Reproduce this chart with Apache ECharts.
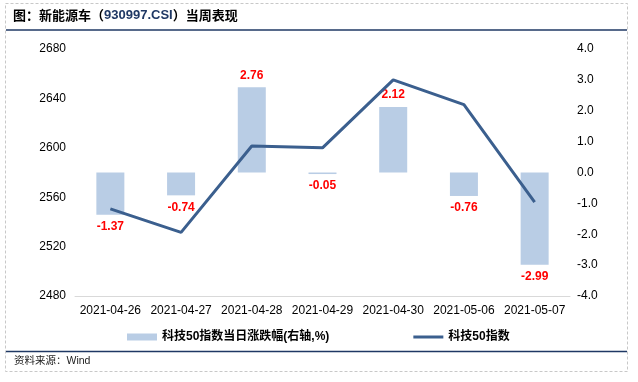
<!DOCTYPE html>
<html>
<head>
<meta charset="utf-8">
<script src="https://cdn.jsdelivr.net/npm/echarts@6/dist/echarts.min.js"></script>
<style>
html,body{margin:0;padding:0;background:#fff;}
#chart{width:638px;height:382px;}
</style>
</head>
<body>
<div id="chart"></div>
<script>
const categories = ['2021-04-26','2021-04-27','2021-04-28','2021-04-29','2021-04-30','2021-05-06','2021-05-07'];
const changePct = [-1.37, -0.74, 2.76, -0.05, 2.12, -0.76, -2.99];
const indexValues = [2550.5, 2531.5, 2601.5, 2600.0, 2655.0, 2635.0, 2556.0];
const leftTicks = {min: 2480, max: 2680, interval: 40};
const rightTicks = {min: -4, max: 4, interval: 1};
const barName = '科技50指数当日涨跌幅(右轴,%)';
const lineName = '科技50指数';

const FONT = '"Liberation Sans", Arial, "Noto Sans CJK SC", sans-serif';
const chart = echarts.init(document.getElementById('chart'), null, {renderer: 'canvas'});

const option = {
  backgroundColor: '#ffffff',
  animation: false,
  textStyle: {fontFamily: FONT},
  graphic: [
    {type: 'rect', shape: {x: 5.5, y: 3.5, width: 622, height: 368},
     style: {fill: 'none', stroke: '#C8C8C8', lineWidth: 1, lineDash: [3, 2]}, silent: true, z: 0},
    {type: 'line', shape: {x1: 6, y1: 30, x2: 627, y2: 30},
     style: {stroke: '#1F3864', lineWidth: 1.5}, silent: true},
    {type: 'line', shape: {x1: 6, y1: 351.5, x2: 627, y2: 351.5},
     style: {stroke: '#1F3864', lineWidth: 1.5}, silent: true},
    {type: 'text', left: 13, top: 9,
     style: {
       text: '{a|图：新能源车（}{b|930997.CSI}{a|）当周表现}',
       rich: {
         a: {fontFamily: '"Noto Sans CJK SC", sans-serif', fontWeight: 'bold', fontSize: 13, fill: '#000'},
         b: {fontFamily: '"Liberation Sans", Arial, sans-serif', fontWeight: 'bold', fontSize: 13, fill: '#1F3864'}
       }
     }},
    {type: 'text', left: 14, top: 356,
     style: {text: '资料来源：Wind', fontSize: 10.5, fill: '#222', fontFamily: FONT}}
  ],
  legend: {
    left: 122, top: 326,
    itemGap: 84,
    itemWidth: 30, itemHeight: 7,
    textStyle: {fontSize: 12, fontWeight: 'bold', color: '#000', fontFamily: FONT},
    data: [
      {name: barName, icon: 'rect'},
      {name: lineName, icon: 'path://M0,0H30V3H0Z'}
    ]
  },
  grid: {left: 75, right: 68, top: 49, bottom: 86, containLabel: false},
  xAxis: {
    type: 'category',
    data: categories,
    axisTick: {show: false},
    axisLine: {onZero: false, lineStyle: {color: '#D9D9D9', width: 1}},
    axisLabel: {color: '#000', fontSize: 12, margin: 9, fontFamily: FONT, interval: 0}
  },
  yAxis: [
    {
      type: 'value', min: leftTicks.min, max: leftTicks.max, interval: leftTicks.interval,
      splitLine: {show: false}, axisLine: {show: false}, axisTick: {show: false},
      axisLabel: {color: '#000', fontSize: 12, margin: 9, fontFamily: FONT,
        formatter: v => String(v)}
    },
    {
      type: 'value', position: 'right', min: rightTicks.min, max: rightTicks.max, interval: rightTicks.interval,
      splitLine: {show: false}, axisLine: {show: false}, axisTick: {show: false},
      axisLabel: {color: '#000', fontSize: 12, margin: 7, fontFamily: FONT,
        formatter: v => v.toFixed(1)}
    }
  ],
  series: [
    {
      name: barName, type: 'bar', yAxisIndex: 1, barWidth: 28,
      itemStyle: {color: '#B9CDE5'},
      data: changePct.map(v => ({
        value: v,
        label: {position: v >= 0 ? 'top' : 'bottom'}
      })),
      label: {show: true, distance: 6, color: '#FF0000', fontWeight: 'bold', fontSize: 12, fontFamily: FONT,
        formatter: p => p.value.toFixed(2)},
      z: 2
    },
    {
      name: lineName, type: 'line', yAxisIndex: 0,
      data: indexValues,
      showSymbol: false, symbol: 'none',
      lineStyle: {color: '#3B5F8E', width: 3},
      itemStyle: {color: '#3B5F8E'},
      z: 3
    }
  ]
};
chart.setOption(option);
</script>
</body>
</html>
